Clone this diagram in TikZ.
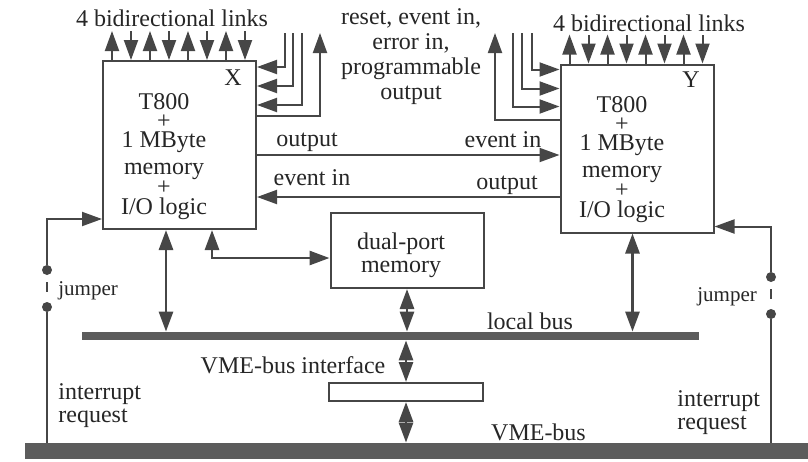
\documentclass[tikz,border=0pt]{standalone}
\usepackage{fontspec}
\setmainfont{Liberation Serif}
\usetikzlibrary{positioning, arrows.meta, calc}
\definecolor{inkgray}{HTML}{464646}
\definecolor{busgray}{HTML}{5C5C5C}
\definecolor{textgray}{HTML}{262626}
\tikzset{
	boxnode/.style={
			shape=rectangle,
			draw=inkgray,
			line width=1pt,
			fill=white,
			inner sep=0pt
		},
	cpunode/.style={
			boxnode,
			minimum width=76.5pt,
			minimum height=84pt
		},
	busnode/.style={
			shape=rectangle,
			fill=busgray,
			inner sep=0pt
		},
	dotnode/.style={
			circle,
			fill=inkgray,
			minimum size=5pt,
			inner sep=0pt
		}
}
\tikzset{
	sig/.style={draw=inkgray, line width=1pt},
	sigto/.style={sig, -{Triangle[length=10pt, width=7pt]}},
	sigfrom/.style={sig, {Triangle[length=10pt, width=7pt]}-},
	sigboth/.style={sig, line width=1.4pt, {Triangle[length=10pt, width=7pt]}-{Triangle[length=10pt, width=7pt]}},
	labeltext/.style={font=\fontsize{12}{12.5}\selectfont, text=textgray, inner sep=0pt},
	smalltext/.style={font=\fontsize{10.5}{12}\selectfont, text=textgray, inner sep=0pt}
}
\begin{document}
\begin{tikzpicture}[x=0.5pt, y=-0.5pt]
	\useasboundingbox (0,0) rectangle (808,461);

	\node[cpunode] (cpuX) at (179.5,145) {};
	\node[cpunode] (cpuY) at (637,148.5) {};
	\node[boxnode, minimum width=76.5pt, minimum height=37.5pt] (dpmem) at (407,250.5) {};
	\node[boxnode, minimum width=77pt, minimum height=9pt] (vmeif) at (406,392) {};
	\node[busnode, minimum width=308.5pt, minimum height=4pt] (localbus) at (390.5,336) {};
	\node[busnode, minimum width=391.5pt, minimum height=8pt] (vmebus) at (416.5,451) {};

	\node[labeltext, align=center] (textX) at (164,157) {T800\\[-3pt]+\\[-3pt]1 MByte\\[1pt]memory\\[-2.5pt]+\\[-2.5pt]I/O logic};
	\node[labeltext, align=center] (textY) at (622,160) {T800\\[-3pt]+\\[-3pt]1 MByte\\[1pt]memory\\[-2.5pt]+\\[-2.5pt]I/O logic};
	\node[labeltext] (nameX) at (233,77.5) {X};
	\node[labeltext] (nameY) at (691,80) {Y};
	\node[labeltext, align=center] (dpmemtext) at (401,255.5) {dual-port\\[-1pt]memory};

	\node[labeltext] (linksX) at (172,18.5) {4 bidirectional links};
	\node[labeltext] (linksY) at (649,23.5) {4 bidirectional links};
	\node[labeltext, align=center] (ctrltext) at (411,57) {reset, event in,\\error in,\\programmable\\output};

	\node[labeltext] (outX) at (307,142) {output};
	\node[labeltext] (evX) at (312,178) {event in};
	\node[labeltext] (evY) at (503,140) {event in};
	\node[labeltext] (outY) at (507,185.5) {output};

	\node[labeltext] (localtext) at (530,321) {local bus};
	\node[labeltext] (iftext) at (293,365) {VME-bus interface};
	\node[labeltext] (vmetext) at (538.5,432) {VME-bus};

	% links of X
	\draw[sigto]   ([xshift=5pt]cpuX.north west) -- ++(0,-29);
	\draw[sigfrom] ([xshift=14.5pt]cpuX.north west) -- ++(0,-29);
	\draw[sigto]   ([xshift=24pt]cpuX.north west) -- ++(0,-29);
	\draw[sigfrom] ([xshift=33.5pt]cpuX.north west) -- ++(0,-29);
	\draw[sigto]   ([xshift=43pt]cpuX.north west) -- ++(0,-29);
	\draw[sigfrom] ([xshift=52.5pt]cpuX.north west) -- ++(0,-29);
	\draw[sigto]   ([xshift=62pt]cpuX.north west) -- ++(0,-29);
	\draw[sigfrom] ([xshift=71.5pt]cpuX.north west) -- ++(0,-29);

	% links of Y
	\draw[sigto]   ([xshift=5pt]cpuY.north west) -- ++(0,-29);
	\draw[sigfrom] ([xshift=14.5pt]cpuY.north west) -- ++(0,-29);
	\draw[sigto]   ([xshift=24pt]cpuY.north west) -- ++(0,-29);
	\draw[sigfrom] ([xshift=33.5pt]cpuY.north west) -- ++(0,-29);
	\draw[sigto]   ([xshift=43pt]cpuY.north west) -- ++(0,-29);
	\draw[sigfrom] ([xshift=52.5pt]cpuY.north west) -- ++(0,-29);
	\draw[sigto]   ([xshift=62pt]cpuY.north west) -- ++(0,-29);
	\draw[sigfrom] ([xshift=71.5pt]cpuY.north west) -- ++(0,-29);

	% reset, event in, error in, programmable output
	\coordinate (rstX1) at (285,33);
	\coordinate (rstX2) at (293,33);
	\coordinate (rstX3) at (302,33);
	\coordinate (progX) at (320,33);
	\coordinate (rstY1) at (532,33);
	\coordinate (rstY2) at (522,33);
	\coordinate (rstY3) at (513,33);
	\coordinate (progY) at (495,33);

	\draw[sigto] (rstX1) |- ([yshift=-3.5pt]cpuX.north east);
	\draw[sigto] (rstX2) |- ([yshift=-13pt]cpuX.north east);
	\draw[sigto] (rstX3) |- ([yshift=-22.5pt]cpuX.north east);
	\draw[sigto] ([yshift=-28pt]cpuX.north east) -| (progX);

	\draw[sigto] (rstY1) |- ([yshift=-3pt]cpuY.north west);
	\draw[sigto] (rstY2) |- ([yshift=-12.5pt]cpuY.north west);
	\draw[sigto] (rstY3) |- ([yshift=-21.5pt]cpuY.north west);
	\draw[sigto] ([yshift=-28pt]cpuY.north west) -| (progY);

	% X <-> Y
	\draw[sigto]   ([yshift=-47.5pt]cpuX.north east) -- ([yshift=-47.5pt]cpuX.north east -| cpuY.west);
	\draw[sigfrom] ([yshift=-68.5pt]cpuX.north east) -- ([yshift=-68.5pt]cpuX.north east -| cpuY.west);

	% buses
	\draw[sigboth] ([xshift=32pt]cpuX.south west) -- ([xshift=32pt]cpuX.south west |- localbus.north);
	\draw[sigboth] ([xshift=55pt]cpuX.south west) |- ([yshift=-3.75pt]dpmem.west);
	\draw[sigboth] ([xshift=36.5pt]cpuY.south west) -- ([xshift=36.5pt]cpuY.south west |- localbus.north);
	\draw[sigboth] (dpmem.south) -- (dpmem.south |- localbus.north);
	\draw[sigboth] (vmeif.north |- localbus.south) -- (vmeif.north);
	\draw[sigboth] (vmeif.south) -- (vmeif.south |- vmebus.north);

	% interrupt request with jumper
	\node[dotnode] (jmpXa) at (47,270) {};
	\node[dotnode] (jmpXb) at (47,307) {};
	\node[dotnode] (jmpYa) at (771,277) {};
	\node[dotnode] (jmpYb) at (771,314) {};

	\draw[sigto] (jmpXa) |- ([yshift=-79.5pt]cpuX.north west);
	\draw[sig, dash pattern=on 0pt off 3.5pt on 5pt off 10pt] (jmpXa) -- (jmpXb);
	\draw[sig] (jmpXb) -- (jmpXb |- vmebus.north);
	\draw[sigto] (jmpYa) |- ([yshift=-81.5pt]cpuY.north east);
	\draw[sig, dash pattern=on 0pt off 3.5pt on 5pt off 10pt] (jmpYa) -- (jmpYb);
	\draw[sig] (jmpYb) -- (jmpYb |- vmebus.north);

	\node[smalltext, anchor=west] (jmpXtext) at (58,291) {jumper};
	\node[smalltext, anchor=west] (jmpYtext) at (697,297) {jumper};
	\node[labeltext, align=left, anchor=west] (irqX) at (58,406) {interrupt\\[-1pt]request};
	\node[labeltext, align=left, anchor=west] (irqY) at (677,413) {interrupt\\[-1pt]request};

\end{tikzpicture}
\end{document}
